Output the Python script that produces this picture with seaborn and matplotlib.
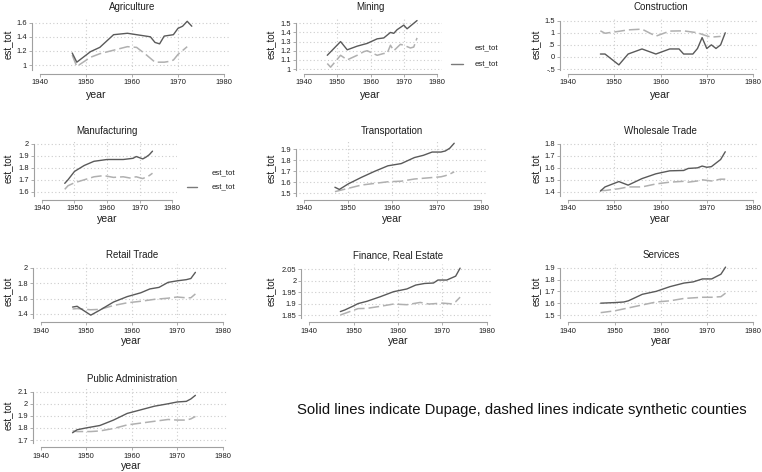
import matplotlib
matplotlib.use("Agg")
import matplotlib.pyplot as plt
from matplotlib.lines import Line2D
import pandas as pd
import seaborn as sns

sns.set_theme(style="white")
plt.rcParams["font.family"] = ["Liberation Sans", "DejaVu Sans"]

# ---------------- data ----------------
agri_years_d = [1947, 1948, 1951, 1953, 1956, 1959, 1962, 1964, 1965, 1966, 1967, 1969, 1970, 1971, 1972, 1973]
agri_dupage = [1.17, 1.04, 1.19, 1.25, 1.43, 1.45, 1.42, 1.40, 1.32, 1.30, 1.41, 1.43, 1.52, 1.55, 1.62, 1.55]
agri_years_s = [1947, 1948, 1951, 1953, 1956, 1959, 1961, 1963, 1965, 1967, 1968, 1969, 1970, 1972]
agri_synth = [1.14, 0.98, 1.11, 1.16, 1.21, 1.26, 1.25, 1.15, 1.04, 1.04, 1.05, 1.07, 1.15, 1.26]

mine_years_d = [1947, 1951, 1953, 1956, 1959, 1962, 1964, 1966, 1967, 1968, 1970, 1971, 1974]
mine_dupage = [1.15, 1.30, 1.21, 1.25, 1.28, 1.33, 1.34, 1.40, 1.39, 1.43, 1.48, 1.44, 1.53]
mine_years_s = [1947, 1948, 1951, 1953, 1956, 1958, 1959, 1962, 1964, 1965, 1966, 1967, 1969, 1970, 1972, 1973, 1974]
mine_synth = [1.06, 1.02, 1.15, 1.10, 1.15, 1.19, 1.20, 1.15, 1.17, 1.17, 1.26, 1.20, 1.27, 1.26, 1.23, 1.24, 1.34]

cons_years_d = [1947, 1948, 1951, 1953, 1956, 1959, 1962, 1964, 1965, 1967, 1968, 1969, 1970, 1971, 1972, 1973, 1974]
cons_dupage = [0.12, 0.12, -0.33, 0.12, 0.33, 0.12, 0.33, 0.33, 0.12, 0.12, 0.35, 0.80, 0.35, 0.50, 0.35, 0.50, 1.00]
cons_years_s = [1947, 1948, 1951, 1953, 1956, 1959, 1962, 1965, 1968, 1970, 1971, 1973]
cons_synth = [1.08, 0.98, 1.06, 1.12, 1.15, 0.86, 1.07, 1.08, 1.00, 0.87, 0.82, 0.85]

manu_years_d = [1947, 1948, 1950, 1953, 1956, 1960, 1965, 1968, 1969, 1970, 1971, 1972, 1973, 1974]
manu_dupage = [1.67, 1.70, 1.77, 1.82, 1.855, 1.87, 1.87, 1.88, 1.895, 1.885, 1.875, 1.89, 1.91, 1.94]
manu_years_s = [1947, 1948, 1950, 1953, 1956, 1959, 1962, 1965, 1967, 1969, 1971, 1973, 1974]
manu_synth = [1.62, 1.65, 1.675, 1.70, 1.725, 1.735, 1.72, 1.725, 1.715, 1.725, 1.71, 1.735, 1.755]

tran_years_d = [1947, 1948, 1950, 1953, 1956, 1959, 1962, 1965, 1967, 1969, 1971, 1972, 1973, 1974]
tran_dupage = [1.555, 1.535, 1.585, 1.645, 1.70, 1.75, 1.77, 1.825, 1.845, 1.875, 1.875, 1.885, 1.91, 1.955]
tran_years_s = [1947, 1948, 1950, 1953, 1956, 1959, 1962, 1965, 1968, 1971, 1972, 1973, 1974]
tran_synth = [1.515, 1.525, 1.545, 1.575, 1.59, 1.605, 1.61, 1.63, 1.64, 1.65, 1.66, 1.675, 1.695]

whol_years_d = [1947, 1948, 1951, 1953, 1956, 1959, 1962, 1965, 1966, 1968, 1969, 1970, 1971, 1973, 1974]
whol_dupage = [1.405, 1.44, 1.485, 1.455, 1.51, 1.55, 1.575, 1.578, 1.595, 1.60, 1.615, 1.605, 1.61, 1.67, 1.735]
whol_years_s = [1947, 1948, 1951, 1953, 1956, 1959, 1962, 1965, 1966, 1968, 1969, 1971, 1973, 1974]
whol_synth = [1.41, 1.41, 1.425, 1.44, 1.44, 1.465, 1.48, 1.487, 1.48, 1.49, 1.50, 1.49, 1.505, 1.505]

reta_years_d = [1947, 1948, 1951, 1953, 1956, 1959, 1962, 1964, 1966, 1968, 1970, 1972, 1973, 1974]
reta_dupage = [1.49, 1.50, 1.385, 1.45, 1.555, 1.625, 1.675, 1.725, 1.745, 1.81, 1.83, 1.845, 1.86, 1.94]
reta_years_s = [1947, 1948, 1951, 1953, 1956, 1959, 1962, 1965, 1968, 1970, 1972, 1973, 1974]
reta_synth = [1.465, 1.47, 1.455, 1.46, 1.51, 1.545, 1.565, 1.59, 1.605, 1.62, 1.61, 1.61, 1.66]

fire_years_d = [1947, 1948, 1950, 1951, 1953, 1956, 1959, 1962, 1964, 1966, 1968, 1969, 1971, 1973, 1974]
fire_dupage = [1.865, 1.872, 1.89, 1.90, 1.91, 1.93, 1.952, 1.964, 1.981, 1.988, 1.99, 2.003, 2.003, 2.02, 2.055]
fire_years_s = [1947, 1948, 1951, 1953, 1956, 1959, 1962, 1965, 1967, 1970, 1972, 1973, 1974]
fire_synth = [1.85, 1.857, 1.878, 1.879, 1.888, 1.898, 1.895, 1.905, 1.898, 1.902, 1.899, 1.908, 1.928]

serv_years_d = [1947, 1950, 1952, 1953, 1956, 1959, 1962, 1965, 1967, 1969, 1971, 1973, 1974]
serv_dupage = [1.60, 1.605, 1.61, 1.62, 1.675, 1.70, 1.74, 1.77, 1.78, 1.805, 1.805, 1.845, 1.905]
serv_years_s = [1947, 1950, 1953, 1956, 1959, 1962, 1965, 1967, 1969, 1971, 1973, 1974]
serv_synth = [1.52, 1.535, 1.56, 1.585, 1.61, 1.62, 1.64, 1.645, 1.65, 1.65, 1.655, 1.685]

publ_years_d = [1947, 1948, 1950, 1953, 1956, 1959, 1962, 1965, 1968, 1970, 1972, 1973, 1974]
publ_dupage = [1.76, 1.785, 1.80, 1.82, 1.865, 1.92, 1.95, 1.98, 2.00, 2.015, 2.02, 2.04, 2.07]
publ_years_s = [1947, 1948, 1951, 1953, 1956, 1959, 1962, 1965, 1968, 1970, 1972, 1973, 1974]
publ_synth = [1.775, 1.77, 1.77, 1.775, 1.795, 1.825, 1.84, 1.855, 1.87, 1.865, 1.865, 1.875, 1.895]

titles = ["Agriculture", "Mining", "Construction", "Manufacturing", "Transportation",
          "Wholesale Trade", "Retail Trade", "Finance, Real Estate", "Services",
          "Public Administration"]
yticks_list = [
    [1.0, 1.2, 1.4, 1.6],
    [1.0, 1.1, 1.2, 1.3, 1.4, 1.5],
    [-0.5, 0.0, 0.5, 1.0, 1.5],
    [1.6, 1.7, 1.8, 1.9, 2.0],
    [1.5, 1.6, 1.7, 1.8, 1.9],
    [1.4, 1.5, 1.6, 1.7, 1.8],
    [1.4, 1.6, 1.8, 2.0],
    [1.85, 1.9, 1.95, 2.0, 2.05],
    [1.5, 1.6, 1.7, 1.8, 1.9],
    [1.7, 1.8, 1.9, 2.0, 2.1],
]
ytick_labels = [
    ["1", "1.2", "1.4", "1.6"],
    ["1", "1.1", "1.2", "1.3", "1.4", "1.5"],
    ["-.5", "0", ".5", "1", "1.5"],
    ["1.6", "1.7", "1.8", "1.9", "2"],
    ["1.5", "1.6", "1.7", "1.8", "1.9"],
    ["1.4", "1.5", "1.6", "1.7", "1.8"],
    ["1.4", "1.6", "1.8", "2"],
    ["1.85", "1.9", "1.95", "2", "2.05"],
    ["1.5", "1.6", "1.7", "1.8", "1.9"],
    ["1.7", "1.8", "1.9", "2", "2.1"],
]
xticks = [1940, 1950, 1960, 1970, 1980]
series = [
    (agri_years_d, agri_dupage, agri_years_s, agri_synth),
    (mine_years_d, mine_dupage, mine_years_s, mine_synth),
    (cons_years_d, cons_dupage, cons_years_s, cons_synth),
    (manu_years_d, manu_dupage, manu_years_s, manu_synth),
    (tran_years_d, tran_dupage, tran_years_s, tran_synth),
    (whol_years_d, whol_dupage, whol_years_s, whol_synth),
    (reta_years_d, reta_dupage, reta_years_s, reta_synth),
    (fire_years_d, fire_dupage, fire_years_s, fire_synth),
    (serv_years_d, serv_dupage, serv_years_s, serv_synth),
    (publ_years_d, publ_dupage, publ_years_s, publ_synth),
]

# ---------------- layout (pixels) ----------------
W, H = 762, 472
fig = plt.figure(figsize=(W / 100, H / 100), dpi=100)
fig.patch.set_facecolor("white")

# x1940, x1980, py of top tick, py of bottom tick
geo = [
    (40, 224, 22.7, 65.0),
    (304, 437, 23.3, 69.0),
    (568, 753, 20.7, 69.0),
    (42, 172, 144.0, 191.7),
    (304, 480.7, 149.3, 193.3),
    (568, 753, 144.0, 191.7),
    (40.7, 222.7, 267.7, 314.0),
    (309.3, 486.7, 269.3, 315.0),
    (568.3, 753.3, 267.7, 315.0),
    (40.7, 222.7, 391.7, 440.0),
]
rows = [  # plot top, plot bottom, x-axis line y, title y, year label y
    (18, 70, 73.5, 7, 95),
    (141, 196, 199.5, 131.5, 219),
    (264, 318, 322, 255, 341),
    (388, 443, 447, 378.5, 466),
]
ylab_x = [8.5, 272, 537]

SOLID_C = "#5a5a5a"
DASH_C = "#b0b0b0"
AXIS_C = "#a0a0a0"
GRID_C = "#cccccc"
TXT_C = "#1e1e1e"


def fx(px):
    return px / W


def fy(py):
    return 1 - py / H


for i, (title, (yd, vd, ys, vs)) in enumerate(zip(titles, series)):
    r, c = divmod(i, 3)
    x40, x80, pyt, pyb = geo[i]
    T, B, xa, ty, yy = rows[r]
    L, R = x40 - 5, x80 + 5
    ax = fig.add_axes([fx(L), fy(B), (R - L) / W, (B - T) / H])
    ax.set_facecolor("none")
    sx = (x80 - x40) / 40.0
    ticks = yticks_list[i]
    vt, vb = ticks[-1], ticks[0]
    sy = (pyb - pyt) / (vt - vb)
    xlim = (1940 - 5 / sx, 1980 + 5 / sx)
    ylim = (vb - (B - pyb) / sy, vt + (pyt - T) / sy)

    # grid
    for t in ticks:
        ax.axhline(t, color=GRID_C, lw=0.8, ls=(0, (1, 2.2)), zorder=0)
    for t in xticks[1:-1]:
        ax.axvline(t, color=GRID_C, lw=0.8, ls=(0, (1, 2.2)), zorder=0)

    df_d = pd.DataFrame({"year": yd, "est_tot": vd})
    df_s = pd.DataFrame({"year": ys, "est_tot": vs})
    sns.lineplot(data=df_s, x="year", y="est_tot", ax=ax, color=DASH_C, lw=1.1,
                 linestyle=(0, (7, 2.6)), estimator=None, legend=False, zorder=2)
    sns.lineplot(data=df_d, x="year", y="est_tot", ax=ax, color=SOLID_C, lw=1.0,
                 estimator=None, legend=False, zorder=3)
    ax.set_ylim(*ylim)
    ax.set_xlim(*xlim)

    ax.set_xticks(xticks)
    ax.set_xticklabels([str(t) for t in xticks])
    ax.set_yticks(ticks)
    ax.set_yticklabels(ytick_labels[i])
    ax.set_xlabel("")
    ax.set_ylabel("")
    for s in ["top", "right"]:
        ax.spines[s].set_visible(False)
    ax.spines["left"].set_position(("outward", 3 * 0.72))
    ax.spines["bottom"].set_position(("outward", (xa - B) * 0.72))
    ax.spines["bottom"].set_bounds(1940, 1980)
    ax.spines["left"].set_bounds(ylim[0], vt)
    for s in ["left", "bottom"]:
        ax.spines[s].set_color(AXIS_C)
        ax.spines[s].set_linewidth(0.8)
    ax.tick_params(axis="both", direction="out", length=2.3, width=0.6,
                   color=AXIS_C, labelsize=5.4, labelcolor=TXT_C, pad=1.3)
    ax.tick_params(axis="x", pad=1.8)
    ax.tick_params(left=True, bottom=True)
    ax.grid(False)

    # titles & labels
    cx = (x40 + x80) / 2
    fig.text(fx(cx), fy(ty), title, ha="center", va="center", fontsize=7.0, color=TXT_C)
    yx = 96 if i == 0 else cx
    fig.text(fx(yx), fy(yy), "year", ha="center", va="center", fontsize=7.6, color=TXT_C)
    fig.text(fx(ylab_x[c]), fy((T + B) / 2), "est_tot", ha="center", va="center",
             rotation=90, fontsize=7.0, color=TXT_C)

# legends (Mining and Manufacturing panels)
for (tx, y1, y2, lx0, lx1) in [(475, 48, 64, 451, 463), (212, 172.7, 186.7, 187, 197)]:
    fig.text(fx(tx), fy(y1), "est_tot", ha="left", va="center", fontsize=5.6, color=TXT_C)
    fig.text(fx(tx), fy(y2), "est_tot", ha="left", va="center", fontsize=5.6, color=TXT_C)
    fig.add_artist(Line2D([fx(lx0), fx(lx1)], [fy(y2), fy(y2)], transform=fig.transFigure,
                          color="#7a7a7a", lw=1.0))

fig.text(fx(297), fy(410), "Solid lines indicate Dupage, dashed lines indicate synthetic counties",
         ha="left", va="center", fontsize=10.7, color="#111111")

fig.savefig("out.png", dpi=100, facecolor="white")
